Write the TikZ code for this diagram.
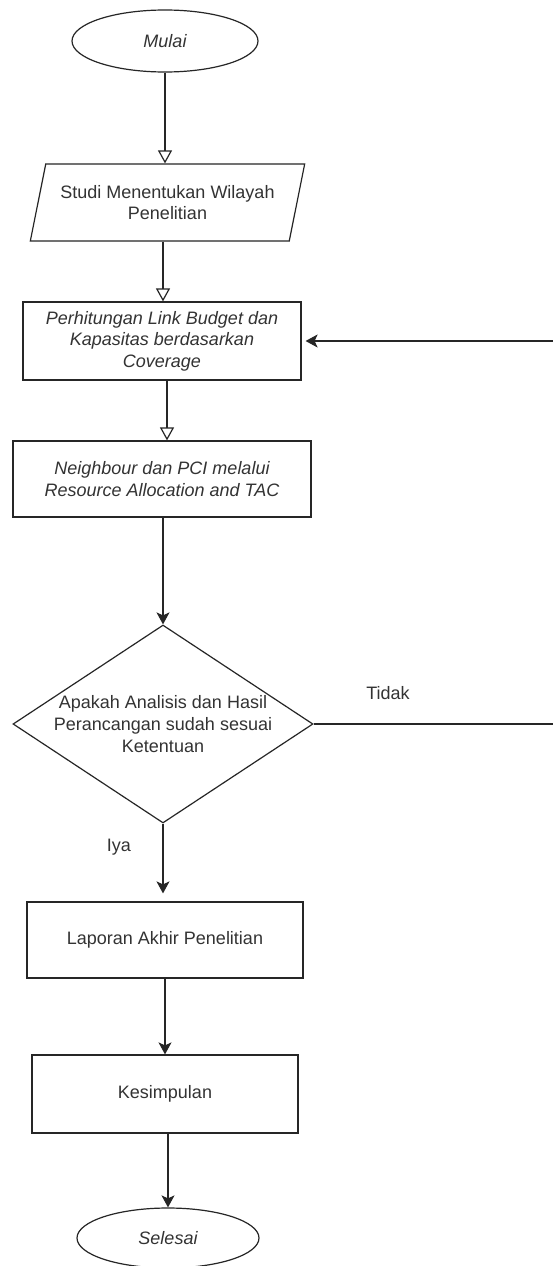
\documentclass[tikz,border=0pt]{standalone}
\usepackage{fontspec}
\setmainfont{Liberation Sans}
\usetikzlibrary{shapes.geometric,arrows.meta}
\begin{document}
\begin{tikzpicture}[x=1pt,y=-1pt,
  every node/.style={font=\fontsize{18}{21.6}\selectfont, text=black!80},
  line/.style={draw=black!85, line width=1.2pt},
  box/.style={line, rectangle, inner sep=0pt, align=center},
  term/.style={line, ellipse, inner sep=0pt, font=\fontsize{18}{21.6}\selectfont\itshape},
  para/.style={line, trapezium, trapezium left angle=68.7, trapezium right angle=111.3,
    trapezium stretches=true, inner sep=0pt, align=center},
  dia/.style={line, diamond, inner sep=0pt},
  openarrow/.style={line, -{Triangle[open,length=13pt,width=14pt]}},
  fillarrow/.style={line, -{Stealth[length=12pt,width=13pt,inset=3pt]}},
  lbl/.style={inner sep=0pt},
]
\useasboundingbox[fill=white] (0,0) rectangle (553,1266);

\node[term, minimum width=186pt, minimum height=62pt] (m) at (165,41) {Mulai};
\node[para, minimum width=275pt, minimum height=77pt] (p) at (167.5,202.5)
  {Studi Menentukan Wilayah\\Penelitian};
\node[box, minimum width=278pt, minimum height=78pt, font=\fontsize{18}{21.6}\selectfont\itshape] (r1) at (162,341)
  {Perhitungan Link Budget dan\\Kapasitas berdasarkan\\Coverage};
\node[box, minimum width=298pt, minimum height=76pt, font=\fontsize{18}{21.6}\selectfont\itshape] (r2) at (162,479)
  {Neighbour dan PCI melalui\\Resource Allocation and TAC};
\node[dia, minimum width=300pt, minimum height=198pt] (d) at (163,724) {};
\node[lbl, align=center] (dt) at (d.center)
  {Apakah Analisis dan Hasil\\Perancangan sudah sesuai\\Ketentuan};
\node[box, minimum width=276pt, minimum height=76pt] (r3) at (165,940) {Laporan Akhir Penelitian};
\node[box, minimum width=266pt, minimum height=78pt] (r4) at (165,1094) {Kesimpulan};
\node[term, minimum width=182pt, minimum height=60pt] (s) at (168,1238) {Selesai};

\node[lbl] (tidak) at (388,693) {Tidak};
\node[lbl] (iya) at (119,847) {Iya};

\draw[openarrow] (m.south) -- (m.south |- p.north);
\draw[openarrow] (p.south -| 163,0) -- (r1.north -| 163,0);
\draw[openarrow] (r1.south -| 167,0) -- (r2.north -| 167,0);
\draw[fillarrow] (r2.south -| d.north) -- (d.north);
\draw[fillarrow, shorten >=8pt] (d.south) -- (d.south |- r3.north);
\draw[fillarrow] (r3.south) -- (r4.north);
\draw[fillarrow] (r4.south -| s.north) -- (s.north);
\draw[fillarrow, shorten >=4pt] (d.east) -- ++(260,0) |- (r1.east);
\end{tikzpicture}
\end{document}
